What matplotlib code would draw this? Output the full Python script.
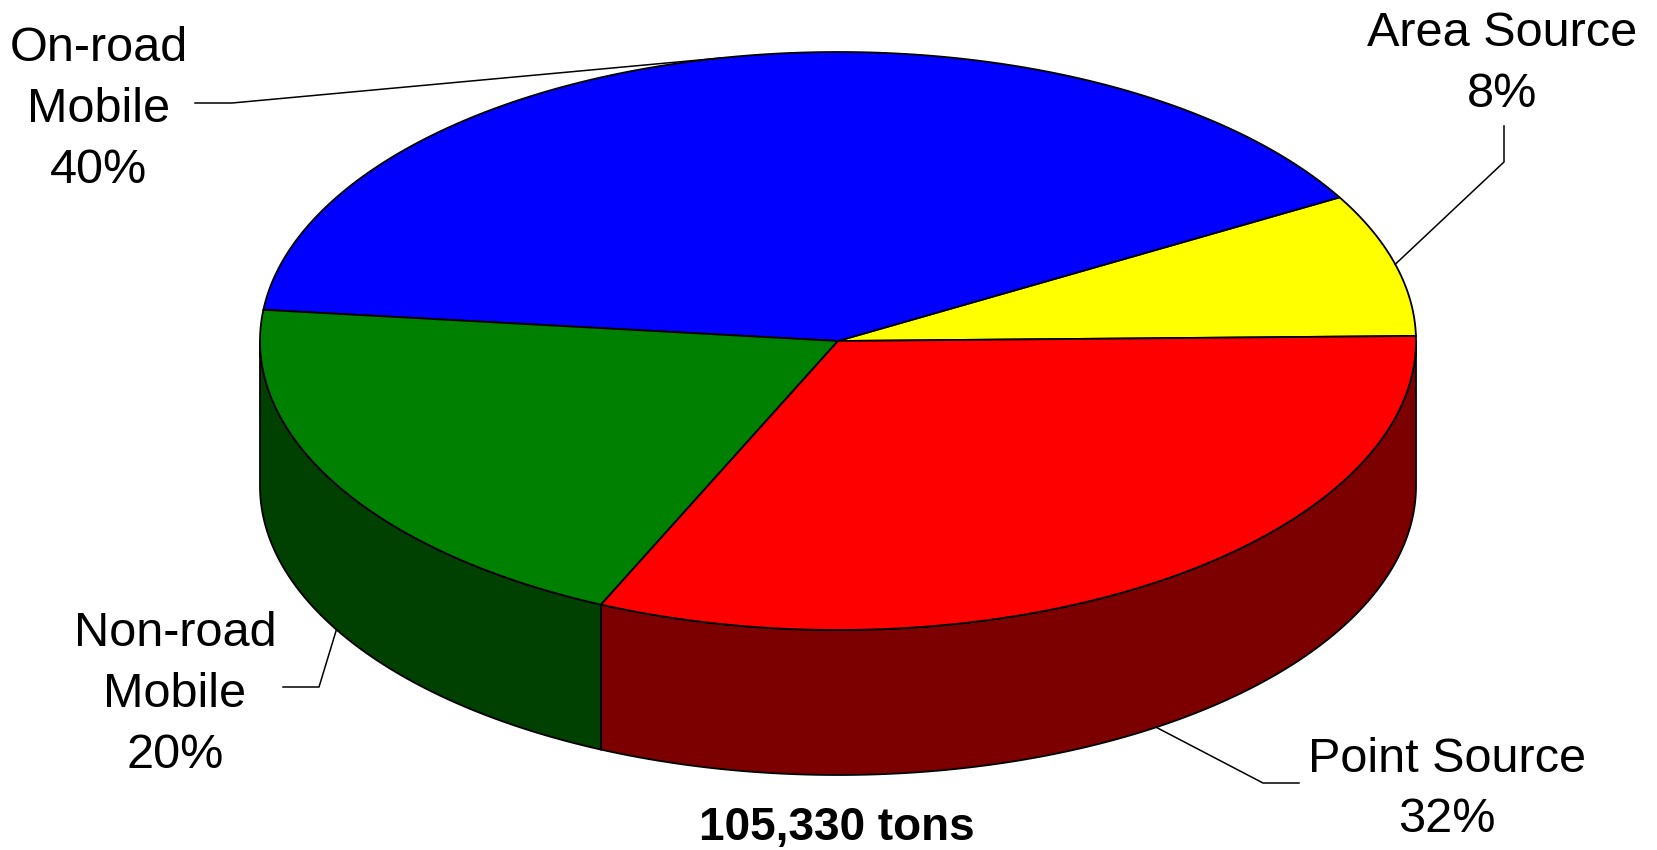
import numpy as np
import matplotlib
matplotlib.use("Agg")
import matplotlib.pyplot as plt
from matplotlib.patches import Polygon

# dados do gráfico (ordem anti-horária a partir do ângulo inicial)
labels = ["Area Source", "On-road\nMobile", "Non-road\nMobile", "Point Source"]
shares = [8, 40, 20, 32]
top_colors = ["#FFFF00", "#0000FF", "#008000", "#FF0000"]
side_colors = ["#808000", "#000080", "#004000", "#7D0000"]
total_label = "105,330 tons"

# geometria da pizza 3D (em pixels)
cx, cy = 838, 341
rx, ry = 578, 289
depth = 145
start_angle = 1.0

# posição dos rótulos: centro do bloco de texto e "cotovelo" da linha guia
label_pos = [(1502, 59), (99, 105), (175, 690), (1447, 785)]
elbows = [[(1504, 126), (1504, 162)],
          [(195, 103), (232, 103)],
          [(283, 687), (319, 687)],
          [(1299, 783), (1263, 783)]]

fig = plt.figure(figsize=(16.58, 8.5), dpi=100)
ax = fig.add_axes([0, 0, 1, 1])
ax.set_xlim(0, 1658)
ax.set_ylim(850, 0)
ax.axis("off")


def ellipse_pts(t0, t1, dy=0, n=200):
    t = np.radians(np.linspace(t0, t1, n))
    return np.column_stack([cx + rx * np.cos(t), cy - ry * np.sin(t) + dy])


angles = start_angle + np.concatenate([[0], np.cumsum(shares)]) * 3.6

# lateral (só a parte da frente é visível)
for i in range(len(shares)):
    a, b = angles[i], angles[i + 1]
    for lo_v, hi_v in [(180, 360), (540, 720)]:
        lo, hi = max(a, lo_v), min(b, hi_v)
        if hi > lo:
            top = ellipse_pts(lo, hi)
            bot = ellipse_pts(lo, hi, dy=depth)[::-1]
            ax.add_patch(Polygon(np.vstack([top, bot]), closed=True,
                                 facecolor=side_colors[i], edgecolor="black",
                                 linewidth=1.3, zorder=2))

# topo
for i in range(len(shares)):
    arc = ellipse_pts(angles[i], angles[i + 1])
    pts = np.vstack([[cx, cy], arc])
    ax.add_patch(Polygon(pts, closed=True, facecolor=top_colors[i],
                         edgecolor="black", linewidth=1.3, zorder=3))

# rótulos e linhas guia
font = ["Liberation Sans", "Arial", "DejaVu Sans"]
line_h = 61
for i in range(len(shares)):
    mid = (angles[i] + angles[i + 1]) / 2
    s = np.sin(np.radians(mid))
    anchor = ellipse_pts(mid, mid, dy=depth if s < 0 else 0, n=1)[0]
    path = np.vstack([elbows[i], anchor])
    ax.plot(path[:, 0], path[:, 1], color="black", linewidth=1.1, zorder=4)

    lines = labels[i].split("\n") + [f"{shares[i]}%"]
    x0, y0 = label_pos[i]
    first = y0 - line_h * (len(lines) - 1) / 2
    for k, txt in enumerate(lines):
        # linha de base = centro da linha + metade da altura das maiúsculas
        ax.text(x0, first + k * line_h + 17, txt, ha="center", va="baseline",
                fontsize=35, family=font, color="black", zorder=5)

ax.text(837, 840, total_label, ha="center", va="baseline", fontsize=33,
        fontweight="bold", family=font, color="black")

fig.savefig("out.png", dpi=100, facecolor="white")
plt.close(fig)
